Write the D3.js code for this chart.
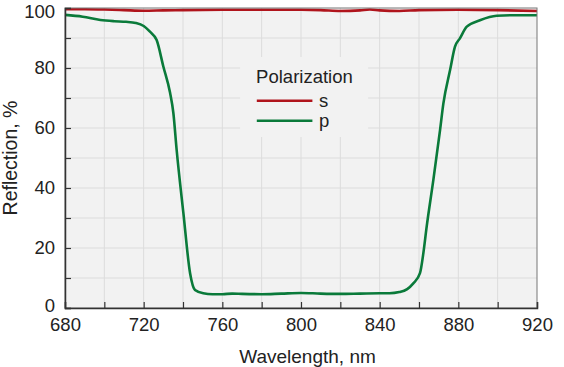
<!DOCTYPE html>
<html>
<head>
<meta charset="utf-8">
<script src="https://cdn.jsdelivr.net/npm/d3@7"></script>
<style>
  body { margin: 0; background: #fff; }
  text { font-family: "Liberation Sans", Arial, sans-serif; fill: #222; }
</style>
</head>
<body>
<svg id="chart" width="564" height="367"></svg>
<script>
// wavelength (nm) and reflection (%)
var sWave = [680, 690, 700, 710, 720, 730, 740, 760, 780, 800, 810, 820, 830, 835, 840, 850, 860, 880, 900, 920]
var sRefl = [99.6, 99.6, 99.5, 99.3, 99.1, 99.2, 99.3, 99.4, 99.4, 99.4, 99.3, 99.0, 99.2, 99.5, 99.2, 99.0, 99.3, 99.4, 99.3, 99.0]

var pWave = [680, 689, 698, 705, 711, 716, 720, 723.2, 726.6, 730, 733.4, 735.1, 736.8, 740.2, 743.6, 746.1, 750.3, 755, 760, 765, 770, 780, 790, 800, 810, 820, 830, 840, 845, 850, 854, 857.1, 860.5, 862.2, 863.9, 867.3, 870.7, 872.4, 875.8, 878.3, 880.8, 884.3, 891, 899.5, 910, 920]
var pRefl = [97.7, 97.1, 96.0, 95.6, 95.4, 95.0, 94.0, 92.1, 89.3, 80.5, 71.8, 65.0, 52.5, 31.6, 11.6, 6.0, 4.9, 4.6, 4.6, 4.8, 4.7, 4.6, 4.8, 5.0, 4.8, 4.7, 4.8, 4.9, 4.9, 5.3, 6.3, 8.2, 11.6, 18.2, 27.1, 42.7, 59.3, 68.2, 79.3, 87.1, 89.9, 93.8, 95.9, 97.4, 97.6, 97.6]

var xTicks = [680, 720, 760, 800, 840, 880, 920]
var yTicks = [0, 20, 40, 60, 80, 100]
var legendItems = [{ name: 's', color: '#b0141c' }, { name: 'p', color: '#0a7a3a' }]

var margin = { top: 8, right: 27, bottom: 59, left: 65 },
  width = 564 - margin.left - margin.right,
  height = 367 - margin.top - margin.bottom

var svg = d3.select('#chart')
var g = svg.append('g').attr('transform', 'translate(' + margin.left + ',' + margin.top + ')')

var x = d3.scaleLinear().domain([680, 920]).range([0, width])
var y = d3.scaleLinear().domain([0, 100]).range([height, 0])

// plot background
g.append('rect').attr('width', width).attr('height', height).attr('fill', '#f2f2f2')

// grid
g.selectAll('.vgrid').data(d3.range(700, 920, 20)).enter().append('line')
  .attr('x1', d => x(d)).attr('x2', d => x(d)).attr('y1', 0).attr('y2', height)
  .attr('stroke', '#dcdcdc').attr('stroke-width', 1)
g.selectAll('.hgrid').data(d3.range(10, 100, 10)).enter().append('line')
  .attr('y1', d => y(d)).attr('y2', d => y(d)).attr('x1', 0).attr('x2', width)
  .attr('stroke', '#dcdcdc').attr('stroke-width', 1)

// legend box hides the grid behind it
var lg = g.append('g').attr('transform', 'translate(' + (x(767)) + ',48)')
lg.append('rect').attr('x', 4).attr('y', 1).attr('width', 128).attr('height', 80).attr('fill', '#f2f2f2')

var line = d3.line().x(d => x(d[0])).y(d => y(d[1])).curve(d3.curveMonotoneX)

g.append('path').datum(d3.zip(pWave, pRefl))
  .attr('d', line).attr('fill', 'none')
  .attr('stroke', legendItems[1].color).attr('stroke-width', 2.6)
g.append('path').datum(d3.zip(sWave, sRefl))
  .attr('d', line).attr('fill', 'none')
  .attr('stroke', legendItems[0].color).attr('stroke-width', 2.6)

// frame
g.append('rect').attr('width', width).attr('height', height)
  .attr('fill', 'none').attr('stroke', '#777').attr('stroke-width', 1)

// axes with inward ticks
var xAxis = g.append('g').attr('transform', 'translate(0,' + height + ')')
  .call(d3.axisBottom(x).tickValues(d3.range(680, 921, 20)).tickSize(-6)
    .tickFormat(d => xTicks.includes(d) ? d : '').tickPadding(10))
var yAxis = g.append('g')
  .call(d3.axisLeft(y).tickValues(d3.range(0, 101, 10)).tickSize(-6)
    .tickFormat(d => yTicks.includes(d) ? d : '').tickPadding(10))
;[xAxis, yAxis].forEach(function(a) {
  a.select('.domain').attr('stroke', '#333').attr('stroke-width', 1.5)
  a.selectAll('.tick line').attr('stroke', '#333').attr('stroke-width', 1.2)
  a.selectAll('.tick text').attr('font-size', 18.5).attr('fill', '#222')
    .attr('font-family', '"Liberation Sans", Arial, sans-serif')
})
// keep the top label inside the page, and nudge the bottom one up like the original
yAxis.selectAll('.tick text').filter(d => d === 100).attr('dy', '0.5em')
yAxis.selectAll('.tick text').filter(d => d === 0).attr('dy', '0.2em')

// axis titles
svg.append('text').attr('x', 307.5).attr('y', 363)
  .attr('text-anchor', 'middle').attr('font-size', 19).text('Wavelength, nm')
svg.append('text').attr('transform', 'translate(17,' + (margin.top + height / 2) + ') rotate(-90)')
  .attr('text-anchor', 'middle').attr('font-size', 19.5).text('Reflection, %')

// legend
lg.append('text').attr('x', 20).attr('y', 26.7).attr('font-size', 18.5).text('Polarization')
legendItems.forEach(function(d, i) {
  var ly = 44.7 + i * 20
  lg.append('line').attr('x1', 20.7).attr('x2', 76.3).attr('y1', ly).attr('y2', ly)
    .attr('stroke', d.color).attr('stroke-width', 2.6)
  lg.append('text').attr('x', 83).attr('y', ly + 6).attr('font-size', 18.5).text(d.name)
})
</script>
</body>
</html>
